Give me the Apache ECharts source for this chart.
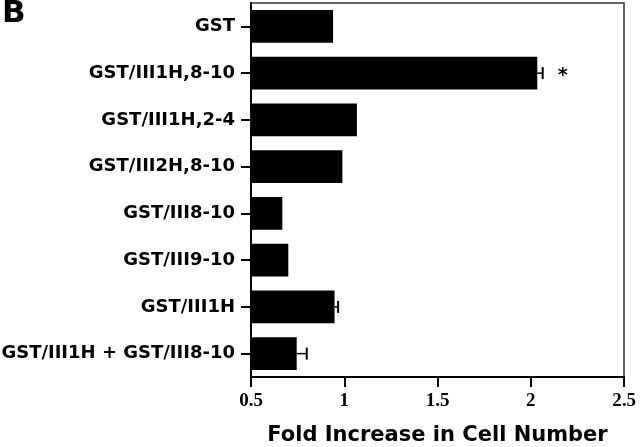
<!DOCTYPE html>
<html>
<head>
<meta charset="utf-8">
<script src="https://cdn.jsdelivr.net/npm/echarts@6/dist/echarts.min.js"></script>
<style>html,body{margin:0;padding:0;background:#fff}#c{width:640px;height:447px}</style>
</head>
<body>
<div id="c"></div>
<script>
const categories = ['GST', 'GST/III1H,8-10', 'GST/III1H,2-4', 'GST/III2H,8-10', 'GST/III8-10', 'GST/III9-10', 'GST/III1H', 'GST/III1H + GST/III8-10'];
const values = [0.94, 2.035, 1.068, 0.99, 0.668, 0.70, 0.948, 0.745];
const errors = [0, 0.029, 0, 0, 0, 0, 0.019, 0.054];
const marks = ['', '*', '', '', '', '', '', ''];
const xTicks = { min: 0.5, max: 2.5, interval: 0.5 };

const chart = echarts.init(document.getElementById('c'));
const errData = values.map((v, i) => [v, i, errors[i], marks[i]]);

chart.setOption({
  animation: false,
  backgroundColor: '#fff',
  graphic: [{
    type: 'text', left: 2, top: -2,
    style: { text: 'B', font: 'bold 31px "DejaVu Sans"', fill: '#000', verticalAlign: 'top' }
  }],
  grid: { left: 251, right: 16, top: 3, bottom: 70, show: true, borderColor: '#333', borderWidth: 1.5, outerBoundsMode: 'none', containLabel: false },
  xAxis: {
    type: 'value', min: xTicks.min, max: xTicks.max, interval: xTicks.interval,
    splitLine: { show: false },
    axisLine: { show: true, lineStyle: { color: '#000', width: 2 } },
    axisTick: { show: true, length: 10, lineStyle: { color: '#000', width: 2 } },
    axisLabel: { margin: 15, color: '#000', fontFamily: 'Liberation Serif', fontWeight: 'bold', fontSize: 19 },
    name: 'Fold Increase in Cell Number', nameLocation: 'middle', nameGap: 48,
    nameTextStyle: { color: '#000', fontFamily: 'DejaVu Sans', fontWeight: 'bold', fontSize: 21 }
  },
  yAxis: {
    type: 'category', data: categories, inverse: true,
    axisLine: { show: true, lineStyle: { color: '#000', width: 2 } },
    axisTick: { show: true, alignWithLabel: true, length: 10, lineStyle: { color: '#000', width: 2 } },
    axisLabel: { margin: 16, color: '#000', fontFamily: 'DejaVu Sans', fontWeight: 'bold', fontSize: 18 }
  },
  series: [{
    type: 'bar', data: values, barCategoryGap: '30%', itemStyle: { color: '#000' }, clip: true
  }, {
    type: 'custom', data: errData, encode: { x: 0, y: 1 }, z: 5,
    renderItem: function (params, api) {
      const v = api.value(0), idx = api.value(1), e = api.value(2);
      const m = marks[idx];
      const children = [];
      const p0 = api.coord([v, idx]);
      const p1 = api.coord([v + e, idx]);
      if (e > 0) {
        children.push({ type: 'line', shape: { x1: p0[0], y1: p0[1], x2: p1[0], y2: p1[1] }, style: { stroke: '#000', lineWidth: 1.5 } });
        children.push({ type: 'line', shape: { x1: p1[0], y1: p1[1] - 6, x2: p1[0], y2: p1[1] + 6 }, style: { stroke: '#000', lineWidth: 2 } });
      }
      if (m) {
        children.push({ type: 'text', x: p1[0] + 20, y: p1[1] + 3, style: { text: m, font: 'bold 19px "DejaVu Sans"', fill: '#000', align: 'center', verticalAlign: 'middle' } });
      }
      return { type: 'group', children: children };
    }
  }]
});
</script>
</body>
</html>
